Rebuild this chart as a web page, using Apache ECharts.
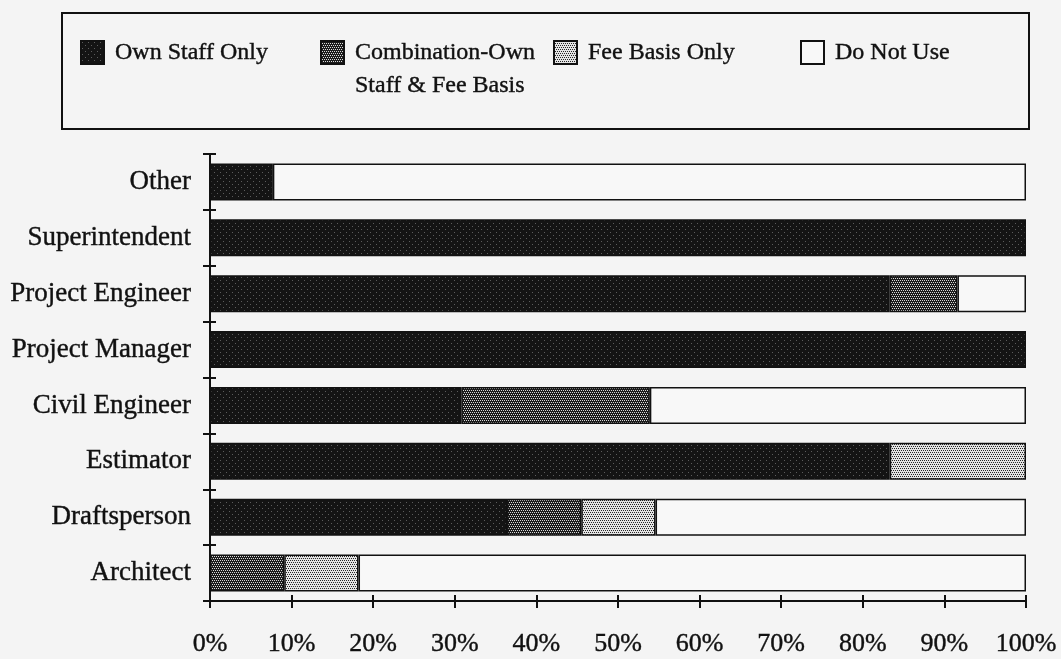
<!DOCTYPE html>
<html>
<head>
<meta charset="utf-8">
<script src="https://cdn.jsdelivr.net/npm/echarts@6/dist/echarts.min.js"></script>
<style>
  html, body { margin: 0; padding: 0; background: #f4f4f4; }
  #chart { width: 1061px; height: 659px; }
</style>
</head>
<body>
<div id="chart"></div>
<script>
// Staffing source by position (percent of respondents)
const categories = ['Architect', 'Draftsperson', 'Estimator', 'Civil Engineer',
  'Project Manager', 'Project Engineer', 'Superintendent', 'Other'];
const ownStaffOnly = [0, 36.4, 83.3, 30.8, 100, 83.3, 100, 7.7];
const combination  = [9.1, 9.1, 0, 23.1, 0, 8.3, 0, 0];
const feeBasisOnly = [9.1, 9.1, 16.7, 0, 0, 0, 0, 0];
const doNotUse     = [81.8, 45.4, 0, 46.1, 0, 8.4, 0, 92.3];
const seriesNames = ['Own Staff Only', 'Combination-Own Staff & Fee Basis', 'Fee Basis Only', 'Do Not Use'];
const xTicks = [0, 10, 20, 30, 40, 50, 60, 70, 80, 90, 100];

const FONT = 'Liberation Serif';
const INK = '#111111';

// Small repeating halftone tiles used as bar fills
function tile(size, bg, fg, dots) {
  const c = document.createElement('canvas');
  c.width = size; c.height = size;
  const ctx = c.getContext('2d');
  ctx.fillStyle = bg; ctx.fillRect(0, 0, size, size);
  ctx.fillStyle = fg;
  dots.forEach(d => ctx.fillRect(d[0], d[1], 1, 1));
  return { image: c, repeat: 'repeat' };
}
const fills = [
  tile(6, '#141414', '#5c5c5c', [[1, 1], [4, 4]]),
  tile(4, '#1c1c1c', '#dadada', [[0, 0], [2, 0], [1, 2], [3, 2]]),
  tile(4, '#e4e4e4', '#262626', [[0, 0], [2, 0], [1, 2], [3, 2]]),
  '#f8f8f8'
];
const values = [ownStaffOnly, combination, feeBasisOnly, doNotUse];

const chart = echarts.init(document.getElementById('chart'), null, { renderer: 'canvas' });

// Heavier ink for printed-looking text
const inkText = { fontFamily: FONT, color: INK, textBorderColor: INK, textBorderWidth: 0.4 };

const legendBase = {
  orient: 'horizontal',
  padding: 0,
  icon: 'rect',
  itemWidth: 23,
  itemHeight: 23,
  selectedMode: false,
  textStyle: Object.assign({}, inkText, { fontSize: 24, padding: [0, 0, 0, 6] })
};

const option = {
  backgroundColor: '#f4f4f4',
  animation: false,
  graphic: [{
    type: 'rect',
    shape: { x: 62, y: 13, width: 967, height: 116 },
    style: { fill: 'transparent', stroke: INK, lineWidth: 2 },
    z: 0
  }],
  legend: [
    Object.assign({}, legendBase, { data: [seriesNames[0]], left: 80, top: 40 }),
    Object.assign({}, legendBase, {
      data: [seriesNames[1]], left: 320, top: 3,
      // leading blank line keeps the first text line level with the swatch
      formatter: () => '\nCombination-Own\nStaff & Fee Basis',
      textStyle: Object.assign({}, inkText, { fontSize: 24, lineHeight: 33, padding: [0, 0, 0, 6] })
    }),
    Object.assign({}, legendBase, { data: [seriesNames[2]], left: 553, top: 40 }),
    Object.assign({}, legendBase, { data: [seriesNames[3]], left: 800, top: 40 })
  ],
  grid: { left: 210, right: 35, top: 154, bottom: 58, containLabel: false },
  xAxis: [{
    type: 'value', min: 0, max: 100, interval: 10, position: 'bottom',
    axisLine: { show: true, lineStyle: { color: INK, width: 2 } },
    axisTick: { show: true, length: 7, lineStyle: { color: INK, width: 2 } },
    splitLine: { show: false },
    axisLabel: Object.assign({}, inkText, {
      formatter: v => (xTicks.indexOf(v) >= 0 ? v + '%' : ''),
      fontSize: 26, margin: 30
    })
  }, {
    type: 'value', min: 0, max: 100, interval: 10, position: 'bottom',
    axisLine: { show: false },
    axisTick: { show: true, inside: true, length: 6, lineStyle: { color: INK, width: 2 } },
    splitLine: { show: false },
    axisLabel: { show: false }
  }],
  yAxis: [{
    type: 'category', data: categories, position: 'left',
    axisLine: { show: true, lineStyle: { color: INK, width: 2 } },
    axisTick: { show: true, length: 7, lineStyle: { color: INK, width: 2 } },
    axisLabel: Object.assign({}, inkText, { fontSize: 27, margin: 19 })
  }, {
    type: 'category', data: categories, position: 'left',
    axisLine: { show: false },
    axisTick: { show: true, inside: true, length: 6, lineStyle: { color: INK, width: 2 } },
    axisLabel: { show: false }
  }],
  series: seriesNames.map((name, i) => ({
    name: name,
    type: 'bar',
    stack: 'total',
    xAxisIndex: 0,
    yAxisIndex: 0,
    barWidth: 37,
    data: values[i].map(v => (v === 0 ? '-' : v)),
    itemStyle: { color: fills[i], borderColor: INK, borderWidth: 1.5 },
    emphasis: { disabled: true }
  }))
};

chart.setOption(option);
</script>
</body>
</html>
